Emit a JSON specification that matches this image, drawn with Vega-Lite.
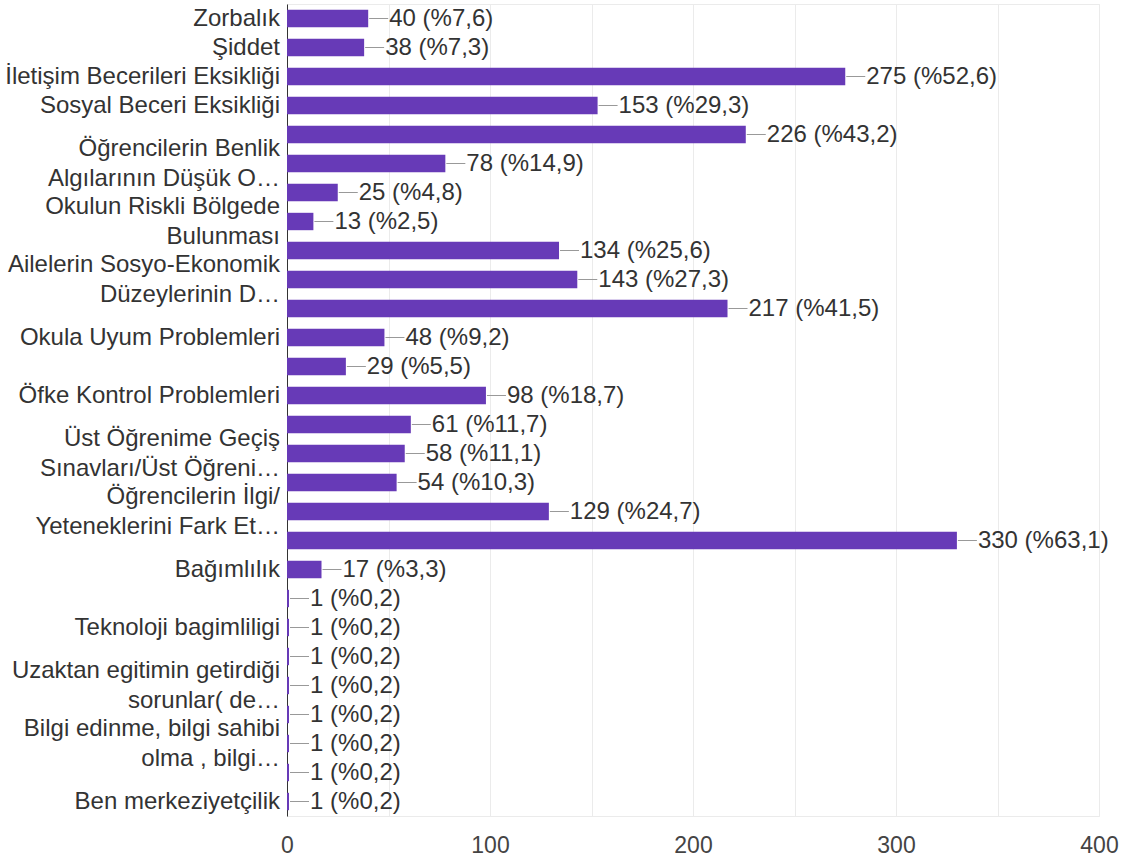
{
  "$schema": "https://vega.github.io/schema/vega-lite/v6.json",
  "autosize": {"type": "none"},
  "width": 812,
  "height": 812,
  "padding": {"left": 287, "top": 4, "right": 33, "bottom": 43},
  "background": "white",
  "config": {
    "font": "Liberation Sans",
    "view": {"stroke": "#ebebeb", "strokeWidth": 1}
  },
  "data": {
    "values": [
      {"sira": 1, "etiket": "Zorbalık", "sayi": 40, "deger": "40 (%7,6)"},
      {"sira": 2, "etiket": "Şiddet", "sayi": 38, "deger": "38 (%7,3)"},
      {"sira": 3, "etiket": "İletişim Becerileri Eksikliği", "sayi": 275, "deger": "275 (%52,6)"},
      {"sira": 4, "etiket": "Sosyal Beceri Eksikliği", "sayi": 153, "deger": "153 (%29,3)"},
      {"sira": 5, "etiket": "", "sayi": 226, "deger": "226 (%43,2)"},
      {"sira": 6, "etiket": "Öğrencilerin Benlik|Algılarının Düşük O…", "sayi": 78, "deger": "78 (%14,9)"},
      {"sira": 7, "etiket": "", "sayi": 25, "deger": "25 (%4,8)"},
      {"sira": 8, "etiket": "Okulun Riskli Bölgede|Bulunması", "sayi": 13, "deger": "13 (%2,5)"},
      {"sira": 9, "etiket": "", "sayi": 134, "deger": "134 (%25,6)"},
      {"sira": 10, "etiket": "Ailelerin Sosyo-Ekonomik|Düzeylerinin D…", "sayi": 143, "deger": "143 (%27,3)"},
      {"sira": 11, "etiket": "", "sayi": 217, "deger": "217 (%41,5)"},
      {"sira": 12, "etiket": "Okula Uyum Problemleri", "sayi": 48, "deger": "48 (%9,2)"},
      {"sira": 13, "etiket": "", "sayi": 29, "deger": "29 (%5,5)"},
      {"sira": 14, "etiket": "Öfke Kontrol Problemleri", "sayi": 98, "deger": "98 (%18,7)"},
      {"sira": 15, "etiket": "", "sayi": 61, "deger": "61 (%11,7)"},
      {"sira": 16, "etiket": "Üst Öğrenime Geçiş|Sınavları/Üst Öğreni…", "sayi": 58, "deger": "58 (%11,1)"},
      {"sira": 17, "etiket": "", "sayi": 54, "deger": "54 (%10,3)"},
      {"sira": 18, "etiket": "Öğrencilerin İlgi/|Yeteneklerini Fark Et…", "sayi": 129, "deger": "129 (%24,7)"},
      {"sira": 19, "etiket": "", "sayi": 330, "deger": "330 (%63,1)"},
      {"sira": 20, "etiket": "Bağımlılık", "sayi": 17, "deger": "17 (%3,3)"},
      {"sira": 21, "etiket": "", "sayi": 1, "deger": "1 (%0,2)"},
      {"sira": 22, "etiket": "Teknoloji bagimliligi", "sayi": 1, "deger": "1 (%0,2)"},
      {"sira": 23, "etiket": "", "sayi": 1, "deger": "1 (%0,2)"},
      {"sira": 24, "etiket": "Uzaktan egitimin getirdiği|sorunlar( de…", "sayi": 1, "deger": "1 (%0,2)"},
      {"sira": 25, "etiket": "", "sayi": 1, "deger": "1 (%0,2)"},
      {"sira": 26, "etiket": "Bilgi edinme, bilgi sahibi|olma , bilgi…", "sayi": 1, "deger": "1 (%0,2)"},
      {"sira": 27, "etiket": "", "sayi": 1, "deger": "1 (%0,2)"},
      {"sira": 28, "etiket": "Ben merkeziyetçilik", "sayi": 1, "deger": "1 (%0,2)"}
    ]
  },
  "encoding": {
    "y": {
      "field": "sira",
      "type": "ordinal",
      "scale": {"paddingInner": 0.4, "paddingOuter": 0.2},
      "axis": {
        "title": null,
        "labels": false,
        "ticks": false,
        "grid": false,
        "domain": true,
        "domainColor": "#333333",
        "domainWidth": 1
      }
    }
  },
  "layer": [
    {
      "mark": {"type": "bar", "color": "#673ab7"},
      "encoding": {
        "x": {
          "field": "sayi",
          "type": "quantitative",
          "scale": {"domain": [0, 400], "nice": false},
          "axis": {
            "title": null,
            "values": [0, 50, 100, 150, 200, 250, 300, 350, 400],
            "labelExpr": "datum.value % 100 == 0 ? datum.label : ''",
            "labelFontSize": 23,
            "labelColor": "#444444",
            "labelPadding": 18,
            "labelFlush": false,
            "ticks": false,
            "domain": false,
            "grid": true,
            "gridColor": "#ebebeb",
            "gridWidth": 1
          }
        }
      }
    },
    {
      "mark": {"type": "rule", "color": "#999999", "strokeWidth": 1, "xOffset": 1, "x2Offset": 20},
      "encoding": {
        "x": {"field": "sayi", "type": "quantitative"},
        "x2": {"field": "sayi"}
      }
    },
    {
      "mark": {"type": "text", "align": "left", "baseline": "middle", "dx": 21, "fontSize": 24, "color": "#333333"},
      "encoding": {
        "x": {"field": "sayi", "type": "quantitative"},
        "text": {"field": "deger"}
      }
    },
    {
      "transform": [{"filter": "indexof(datum.etiket, '|') < 0"}],
      "mark": {"type": "text", "align": "right", "baseline": "middle", "dx": -7, "fontSize": 24, "color": "#333333"},
      "encoding": {
        "x": {"datum": 0, "type": "quantitative"},
        "text": {"field": "etiket"}
      }
    },
    {
      "transform": [{"filter": "indexof(datum.etiket, '|') >= 0"}],
      "mark": {"type": "text", "align": "right", "baseline": "middle", "dx": -7, "dy": -15, "fontSize": 24, "color": "#333333", "lineBreak": "|", "lineHeight": 30},
      "encoding": {
        "x": {"datum": 0, "type": "quantitative"},
        "text": {"field": "etiket"}
      }
    }
  ]
}
